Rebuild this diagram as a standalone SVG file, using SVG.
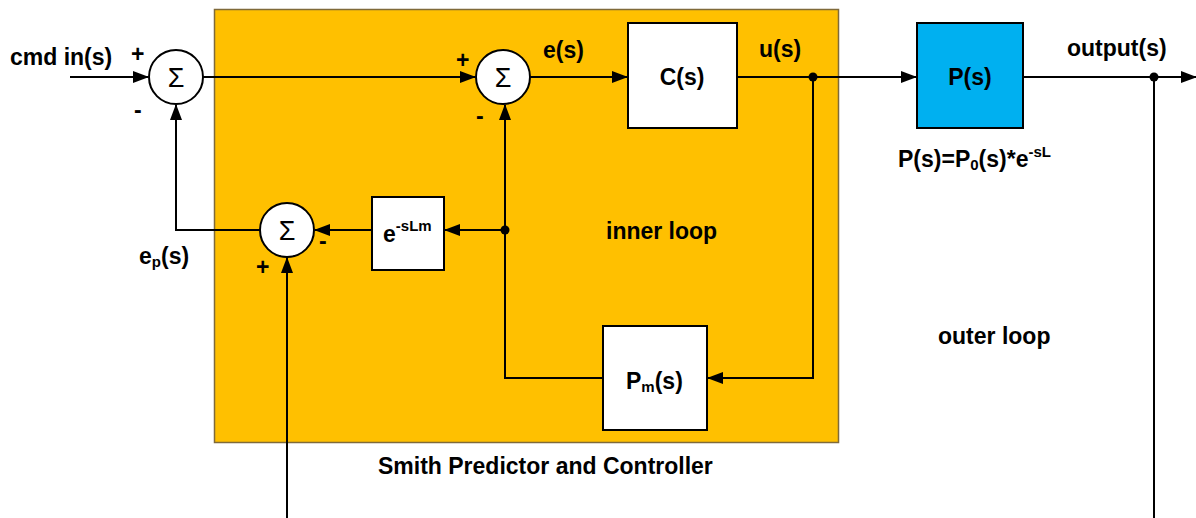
<svg xmlns="http://www.w3.org/2000/svg" width="1196" height="518" viewBox="0 0 1196 518">
<style>
.t{font-family:"Liberation Sans",Arial,sans-serif;font-weight:bold;font-size:23px;fill:#000}
.sg{font-family:"Liberation Sans",Arial,sans-serif;font-size:27px;fill:#000;text-anchor:middle}
.ln{fill:none;stroke:#000;stroke-width:2}
.sum{fill:#fff;stroke:#000;stroke-width:2}
.box{fill:#fff;stroke:#000;stroke-width:2}
</style>
<defs>
<marker id="ah" markerWidth="16" markerHeight="12" refX="15" refY="6" orient="auto" markerUnits="userSpaceOnUse">
<path d="M0,0 L16,6 L0,12 Z" fill="#000"/>
</marker>
</defs>
<rect id="smith" x="214.5" y="9.5" width="624" height="433" fill="#FFC000" stroke="#7F6A3A" stroke-width="1.5"/>
<g id="connectors">
<path class="ln" d="M70,77 H148" marker-end="url(#ah)"/>
<path class="ln" d="M203,77 H475" marker-end="url(#ah)"/>
<path class="ln" d="M530,77 H627" marker-end="url(#ah)"/>
<path class="ln" d="M737,77 H916" marker-end="url(#ah)"/>
<path class="ln" d="M1023,77 H1196" marker-end="url(#ah)"/>
<path class="ln" d="M1154,77 V518"/>
<path class="ln" d="M813,77 V378 H708" marker-end="url(#ah)"/>
<path class="ln" d="M603,378 H505 V105" marker-end="url(#ah)"/>
<path class="ln" d="M505,230 H445" marker-end="url(#ah)"/>
<path class="ln" d="M372,230 H315" marker-end="url(#ah)"/>
<path class="ln" d="M260,230 H176 V105" marker-end="url(#ah)"/>
<path class="ln" d="M287,518 V258" marker-end="url(#ah)"/>
<circle cx="813" cy="77" r="4.5" fill="#000"/>
<circle cx="1154" cy="77" r="4.5" fill="#000"/>
<circle cx="505" cy="230" r="4.5" fill="#000"/>
</g>
<g id="sum1">
<circle class="sum" cx="176" cy="77" r="27"/>
<text class="sg" x="176" y="87">Σ</text>
<text class="t" x="131" y="62">+</text>
<text class="t" x="134" y="118">-</text>
</g>
<g id="sum2">
<circle class="sum" cx="503" cy="77" r="27"/>
<text class="sg" x="503" y="87">Σ</text>
<text class="t" x="456" y="68">+</text>
<text class="t" x="476" y="124">-</text>
</g>
<g id="sum3">
<circle class="sum" cx="287" cy="230" r="27"/>
<text class="sg" x="287" y="240">Σ</text>
<text class="t" x="256" y="275">+</text>
<text class="t" x="319" y="249">-</text>
</g>
<g id="C">
<rect class="box" x="628" y="23" width="109" height="105"/>
<text class="t" x="682" y="85" text-anchor="middle">C(s)</text>
</g>
<g id="P">
<rect x="917" y="23" width="106" height="105" fill="#00B0F0" stroke="#000" stroke-width="2"/>
<text class="t" x="970" y="85" text-anchor="middle">P(s)</text>
</g>
<g id="delay">
<rect class="box" x="372" y="197" width="72" height="73"/>
<text class="t" x="383" y="242">e<tspan font-size="15" dy="-11">-sLm</tspan></text>
</g>
<g id="Pm">
<rect class="box" x="603" y="326" width="104" height="104"/>
<text class="t" x="626" y="389">P<tspan font-size="15" dy="3">m</tspan><tspan dy="-3">(s)</tspan></text>
</g>
<g id="labels">
<text class="t" x="10" y="65">cmd in(s)</text>
<text class="t" x="543" y="58">e(s)</text>
<text class="t" x="759" y="57">u(s)</text>
<text class="t" x="1067" y="56">output(s)</text>
<text class="t" x="898" y="167">P(s)=P<tspan font-size="15" dy="3">0</tspan><tspan dy="-3">(s)*e</tspan><tspan font-size="15" dy="-10">-sL</tspan></text>
<text class="t" x="139" y="264">e<tspan font-size="15" dy="3">p</tspan><tspan dy="-3">(s)</tspan></text>
<text class="t" x="606" y="239">inner loop</text>
<text class="t" x="938" y="344">outer loop</text>
<text class="t" x="378" y="474">Smith Predictor and Controller</text>
</g>
</svg>
